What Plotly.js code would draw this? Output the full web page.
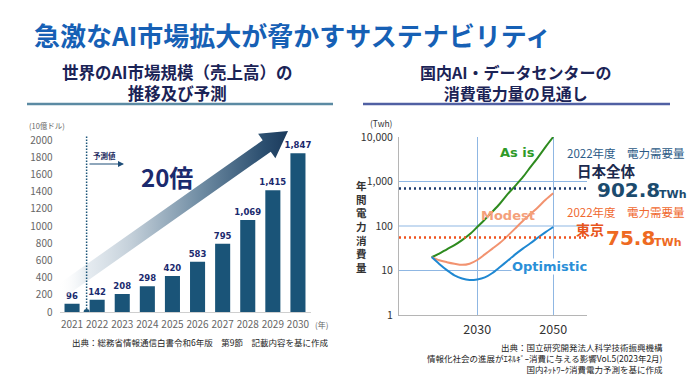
<!DOCTYPE html>
<html><head><meta charset="utf-8">
<script src="https://cdn.plot.ly/plotly-3.0.1.min.js"></script>
<style>html,body{margin:0;padding:0;background:#fff}#chart{width:690px;height:388px}</style>
</head><body><div id="chart"></div>
<script>
// ---- Left chart data: world AI market size (billion USD) ----
const years = [2021, 2022, 2023, 2024, 2025, 2026, 2027, 2028, 2029, 2030];
const marketSize = [96, 142, 208, 298, 420, 583, 795, 1069, 1415, 1847];
const leftTicks = [0, 200, 400, 600, 800, 1000, 1200, 1400, 1600, 1800, 2000];
const forecastStart = 2021.58;

// ---- Right chart data: domestic AI / data-center power (TWh, log) ----
const projYears = [2018, 2020, 2022, 2024, 2026, 2028, 2030, 2032, 2034, 2036, 2038, 2040, 2042, 2044, 2046, 2048, 2050];
const asIs       = [20, 24, 30, 37, 48, 65, 95, 140, 210, 320, 520, 800, 1250, 2100, 3500, 6000, 10000];
const modest     = [20, 17, 15.4, 14.2, 13.4, 14.2, 17.2, 23, 31, 42, 60, 88, 130, 185, 265, 390, 545];
const optimistic = [20, 14, 10.2, 7.8, 6.6, 6.1, 6.3, 7, 8.8, 12, 16.5, 23, 31, 41, 55, 73, 95];
const rightTickVals = [1, 10, 100, 1000, 10000];
const rightTickText = ['1', '10', '100', '1,000', '10,000'];
const rightXTicks = [2030, 2050];
const gridLevels = [10, 100, 1000];
const refLevels = [700, 55];          // dotted reference lines as drawn
const refValues = ['902.8', '75.8'];  // labelled values

const W = 690, H = 388;
const px = v => v / W, py = v => 1 - v / H;
const CJK = '"Noto Sans CJK JP", "Noto Sans", sans-serif';
const LAT = '"DejaVu Sans", "Noto Sans", sans-serif';

// big gradient arrow (decoration) in pixel space on overlay axes
function arrowPoly(tx, ty, hx, hy, w, hw, hl) {
  const dx = hx - tx, dy = hy - ty, len = Math.hypot(dx, dy);
  const ux = dx / len, uy = dy / len, nx = -uy, ny = ux;
  const bx = hx - ux * hl, by = hy - uy * hl;
  const pts = [
    [tx + nx * w, ty + ny * w], [bx + nx * w, by + ny * w], [bx + nx * hw, by + ny * hw],
    [hx, hy], [bx - nx * hw, by - ny * hw], [bx - nx * w, by - ny * w], [tx - nx * w, ty - ny * w],
    [tx + nx * w, ty + ny * w]
  ];
  return {x: pts.map(p => p[0]), y: pts.map(p => p[1])};
}
const arr = arrowPoly(58, 293, 288, 131, 7, 15, 26);

const traces = [
  {
    type: 'bar', x: years, y: marketSize, xaxis: 'x', yaxis: 'y', width: 0.6,
    marker: {color: '#1a5478'}, text: marketSize.map(v => v.toLocaleString('en-US')),
    textposition: 'outside', cliponaxis: false, constraintext: 'none',
    textfont: {family: LAT, size: 8.5, color: '#1b2a6e', weight: 'bold'}, hoverinfo: 'skip'
  },
  {
    type: 'scatter', mode: 'lines', x: arr.x, y: arr.y, xaxis: 'x3', yaxis: 'y3',
    fill: 'toself', line: {width: 0, color: 'rgba(0,0,0,0)'},
    fillgradient: {type: 'horizontal', start: 58, stop: 288,
      colorscale: [[0, 'rgba(255,255,255,0)'], [0.12, 'rgba(225,232,238,0.8)'], [0.32, '#c3cfd9'], [0.62, '#6f8ca3'], [0.9, '#2a4d6e'], [1, '#1b3a5c']]},
    hoverinfo: 'skip'
  },
  {type: 'scatter', mode: 'lines', x: projYears, y: asIs, xaxis: 'x2', yaxis: 'y2',
   line: {color: '#2e8b1f', width: 2, shape: 'spline', smoothing: 0.8}, hoverinfo: 'skip'},
  {type: 'scatter', mode: 'lines', x: projYears, y: modest, xaxis: 'x2', yaxis: 'y2',
   line: {color: '#f29370', width: 2, shape: 'spline', smoothing: 0.8}, hoverinfo: 'skip'},
  {type: 'scatter', mode: 'lines', x: projYears, y: optimistic, xaxis: 'x2', yaxis: 'y2',
   line: {color: '#1f88d2', width: 2, shape: 'spline', smoothing: 0.8}, hoverinfo: 'skip'}
];

const shapes = [
  {type: 'line', xref: 'paper', yref: 'paper', x0: px(27), x1: px(333), y0: py(104), y1: py(104), line: {color: '#5b8aa3', width: 2.5}},
  {type: 'line', xref: 'paper', yref: 'paper', x0: px(363), x1: px(670), y0: py(104), y1: py(104), line: {color: '#5060a3', width: 2.5}},
  {type: 'line', xref: 'x', yref: 'y', x0: forecastStart, x1: forecastStart, y0: 0, y1: 2050, line: {color: '#1a5478', width: 1.5, dash: '1.5px,1.5px'}},
  {type: 'circle', xref: 'x', yref: 'y', xsizemode: 'pixel', ysizemode: 'pixel', xanchor: forecastStart, yanchor: 0,
   x0: -3, x1: 3, y0: -3, y1: 3, fillcolor: '#1a5478', line: {width: 0}}
];
gridLevels.forEach(v => shapes.push({type: 'line', layer: 'below', xref: 'x2 domain', yref: 'y2', x0: 0, x1: 1,
  y0: v, y1: v, line: {color: '#8fb7e3', width: 1}}));
const refColors = ['#1c3a6e', '#f0521e'];
refLevels.forEach((v, i) => shapes.push({type: 'line', xref: 'x2', yref: 'y2', x0: 2009.4, x1: 2060,
  y0: v, y1: v, line: {color: refColors[i], width: 2.5, dash: '2px,3px'}}));

function ann(text, x, y, size, color, opts) {
  return Object.assign({text: text, x: px(x), y: py(y), xref: 'paper', yref: 'paper', showarrow: false,
    xanchor: 'center', yanchor: 'middle', font: {family: CJK, size: size, color: color}}, opts || {});
}
const bold = (fam, size, color) => ({font: {family: fam, size: size, color: color, weight: 'bold'}});
const annotations = [
  ann('急激なAI市場拡大が脅かすサステナビリティ', 32, 34, 26, '#1660b5', Object.assign({xanchor: 'left'}, bold(CJK, 26, '#1660b5'))),
  ann('世界のAI市場規模（売上高）の<br>推移及び予測', 177, 82, 16.5, '#1b2356', bold(CJK, 16.5, '#1b2356')),
  ann('国内AI・データセンターの<br>消費電力量の見通し', 516, 82, 16, '#1b2356', bold(CJK, 16, '#1b2356')),
  ann('(10億ドル)', 27, 126, 7.5, '#666', {xanchor: 'left'}),
  ann('(年)', 313, 324, 8, '#666', {xanchor: 'left'}),
  ann('予測値', 104, 155, 7.5, '#1b2a5e', bold(CJK, 7.5, '#1b2a5e')),
  {text: '', x: px(124), y: py(164), xref: 'paper', yref: 'paper', showarrow: true, ax: -36, ay: 0,
   arrowhead: 2, arrowsize: 1, arrowwidth: 1.2, arrowcolor: '#1f4e79'},
  ann('20倍', 167, 177, 24, '#1b2a6e', bold(CJK, 24, '#1b2a6e')),
  ann('出典：総務省情報通信白書令和6年版　第9節　記載内容を基に作成', 200, 342, 8.5, '#222'),
  ann('(Twh)', 368, 122.5, 8.5, '#333', {xanchor: 'left'}),
  ann('年間電力消費量'.split('').join('<br>'), 361, 226, 10.5, '#333', bold(CJK, 10.5, '#333')),
  ann('As is', 517, 153, 13, '#2f9a28', bold(LAT, 13, '#2f9a28')),
  ann('Modest', 508, 215, 13, '#f4a07a', bold(LAT, 13, '#f4a07a')),
  ann('Optimistic', 511, 266, 13, '#2a8fd8', Object.assign({xanchor: 'left', bgcolor: '#fff', borderpad: 0}, bold(LAT, 13, '#2a8fd8'))),
  ann('2022年度　電力需要量', 565, 153, 11.5, '#2b5a86', {xanchor: 'left'}),
  ann('日本全体', 575, 170, 14.5, '#1b2a4e', Object.assign({xanchor: 'left'}, bold(CJK, 14.5, '#1b2a4e'))),
  ann(refValues[0], 595, 190, 20, '#1b4b6e', Object.assign({xanchor: 'left'}, bold(LAT, 20, '#1b4b6e'))),
  ann('TWh', 657, 194, 11, '#1b4b6e', Object.assign({xanchor: 'left'}, bold(LAT, 11, '#1b4b6e'))),
  ann('2022年度　電力需要量', 565, 212, 11.5, '#f0682e', {xanchor: 'left'}),
  ann('東京', 574, 229, 14, '#e8561d', Object.assign({xanchor: 'left'}, bold(CJK, 14, '#e8561d'))),
  ann(refValues[1], 604, 238, 20, '#ee6a22', Object.assign({xanchor: 'left'}, bold(LAT, 20, '#ee6a22'))),
  ann('TWh', 652, 242, 11, '#ee6a22', Object.assign({xanchor: 'left'}, bold(LAT, 11, '#ee6a22'))),
  ann('出典：国立研究開発法人科学技術振興機構<br>情報化社会の進展がｴﾈﾙｷﾞｰ消費に与える影響Vol.5(2023年2月)<br>国内ﾈｯﾄﾜｰｸ消費電力予測を基に作成',
      665, 358, 8.5, '#222', {xanchor: 'right', align: 'right'})
];

const layout = {
  width: W, height: H, margin: {l: 0, r: 0, t: 0, b: 0}, paper_bgcolor: '#fff', plot_bgcolor: 'rgba(0,0,0,0)',
  showlegend: false, font: {family: CJK, color: '#333'},
  xaxis: {domain: [px(59.5), px(310.5)], range: [2020.5, 2030.5], tickvals: years, ticktext: years.map(String),
    tickfont: {family: CJK, size: 10, color: '#666'}, showline: true, linecolor: '#cfcfcf', linewidth: 1,
    showgrid: false, zeroline: false, ticks: 'outside', ticklen: 3, tickcolor: 'rgba(0,0,0,0)', anchor: 'y', fixedrange: true},
  yaxis: {domain: [py(312), py(131.4)], range: [0, 2100], tickvals: leftTicks, showgrid: false, zeroline: false,
    showline: false, tickfont: {family: CJK, size: 10, color: '#666'}, ticks: 'outside', ticklen: 4,
    tickcolor: 'rgba(0,0,0,0)', anchor: 'x', fixedrange: true},
  xaxis2: {domain: [px(399), px(587)], range: [2009.4, 2058.9], tickvals: rightXTicks, ticktext: rightXTicks.map(String),
    showgrid: true, gridcolor: '#8fb7e3', gridwidth: 1, showline: true, linecolor: '#b5b5b5', zeroline: false,
    tickfont: {family: CJK, size: 12.5, color: '#333'}, ticks: 'outside', ticklen: 3, tickcolor: 'rgba(0,0,0,0)', anchor: 'y2', fixedrange: true},
  yaxis2: {type: 'log', domain: [py(315), py(137)], range: [0, 4], tickvals: rightTickVals, ticktext: rightTickText,
    showgrid: false, showline: true, linecolor: '#b5b5b5', zeroline: false,
    tickfont: {family: CJK, size: 10.5, color: '#333'}, ticks: 'outside', ticklen: 3, tickcolor: 'rgba(0,0,0,0)', anchor: 'x2', fixedrange: true},
  xaxis3: {domain: [0, 1], range: [0, W], visible: false, anchor: 'y3', fixedrange: true},
  yaxis3: {domain: [0, 1], range: [H, 0], visible: false, anchor: 'x3', fixedrange: true},
  shapes: shapes, annotations: annotations
};

Plotly.newPlot('chart', traces, layout, {staticPlot: true, displayModeBar: false});
</script></body></html>
